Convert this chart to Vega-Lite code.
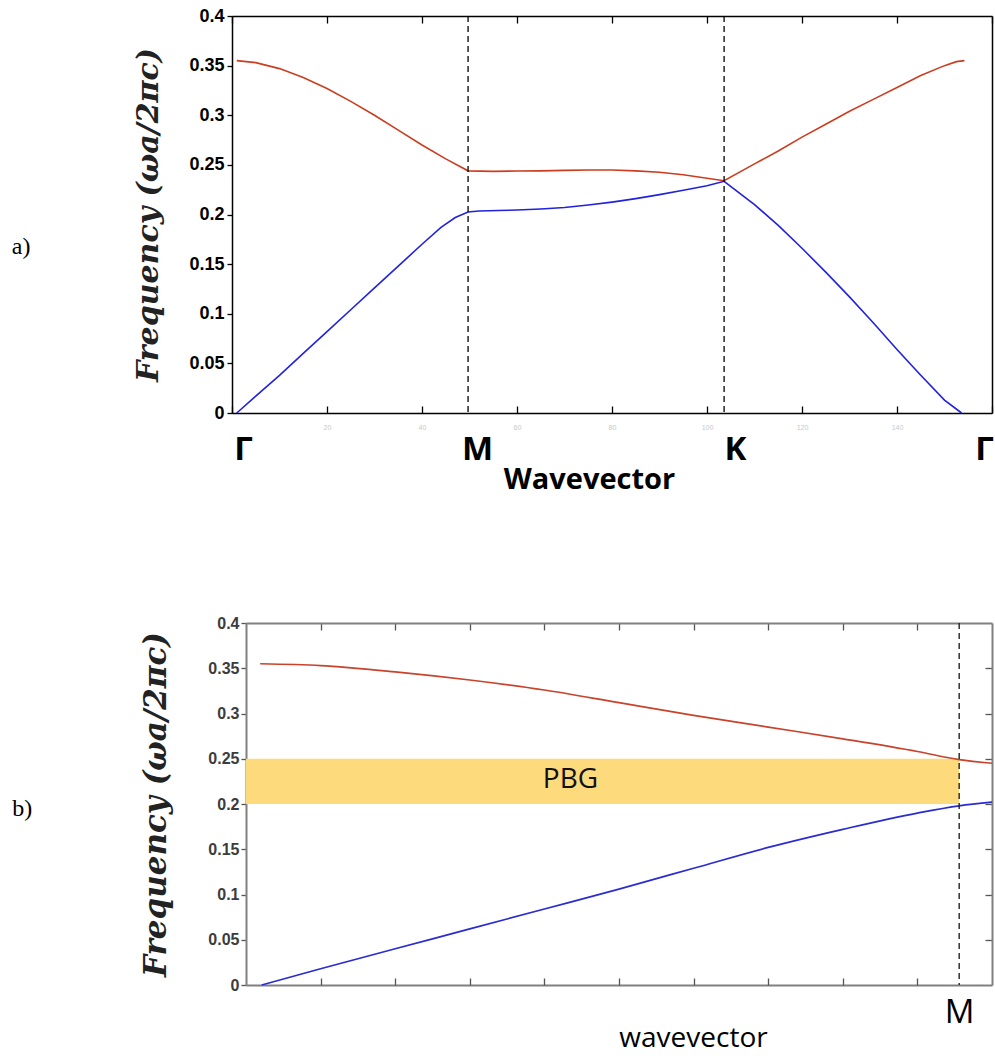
{
  "$schema": "https://vega.github.io/schema/vega-lite/v6.json",
  "padding": {"left": 11, "top": 7, "right": 0, "bottom": 0},
  "background": "white",
  "spacing": 121,
  "config": {"view": {"stroke": null}, "axis": {"grid": false}},
  "datasets": {
    "bandsA": [
      {"k": 1, "f": 0.355, "band": "2"}, {"k": 5, "f": 0.353, "band": "2"}, {"k": 10, "f": 0.347, "band": "2"},
      {"k": 15, "f": 0.338, "band": "2"}, {"k": 20, "f": 0.327, "band": "2"}, {"k": 25, "f": 0.314, "band": "2"},
      {"k": 30, "f": 0.300, "band": "2"}, {"k": 35, "f": 0.285, "band": "2"}, {"k": 40, "f": 0.270, "band": "2"},
      {"k": 45, "f": 0.256, "band": "2"}, {"k": 49.7, "f": 0.244, "band": "2"}, {"k": 55, "f": 0.2435, "band": "2"},
      {"k": 60, "f": 0.2438, "band": "2"}, {"k": 65, "f": 0.244, "band": "2"}, {"k": 70, "f": 0.2445, "band": "2"},
      {"k": 75, "f": 0.2448, "band": "2"}, {"k": 80, "f": 0.2448, "band": "2"}, {"k": 85, "f": 0.244, "band": "2"},
      {"k": 90, "f": 0.2425, "band": "2"}, {"k": 95, "f": 0.240, "band": "2"}, {"k": 100, "f": 0.2365, "band": "2"},
      {"k": 103.6, "f": 0.234, "band": "2"}, {"k": 110, "f": 0.251, "band": "2"}, {"k": 115, "f": 0.264, "band": "2"},
      {"k": 120, "f": 0.278, "band": "2"}, {"k": 125, "f": 0.291, "band": "2"}, {"k": 130, "f": 0.304, "band": "2"},
      {"k": 135, "f": 0.316, "band": "2"}, {"k": 140, "f": 0.328, "band": "2"}, {"k": 145, "f": 0.340, "band": "2"},
      {"k": 150, "f": 0.350, "band": "2"}, {"k": 152.5, "f": 0.354, "band": "2"}, {"k": 154.2, "f": 0.355, "band": "2"},
      {"k": 1, "f": 0.0, "band": "1"}, {"k": 5, "f": 0.017, "band": "1"}, {"k": 10, "f": 0.038, "band": "1"},
      {"k": 15, "f": 0.060, "band": "1"}, {"k": 20, "f": 0.082, "band": "1"}, {"k": 25, "f": 0.104, "band": "1"},
      {"k": 30, "f": 0.126, "band": "1"}, {"k": 35, "f": 0.148, "band": "1"}, {"k": 40, "f": 0.170, "band": "1"},
      {"k": 44, "f": 0.187, "band": "1"}, {"k": 47, "f": 0.197, "band": "1"}, {"k": 49.7, "f": 0.2025, "band": "1"},
      {"k": 52, "f": 0.2035, "band": "1"}, {"k": 56, "f": 0.204, "band": "1"}, {"k": 60, "f": 0.2045, "band": "1"},
      {"k": 65, "f": 0.2055, "band": "1"}, {"k": 70, "f": 0.207, "band": "1"}, {"k": 75, "f": 0.2095, "band": "1"},
      {"k": 80, "f": 0.2125, "band": "1"}, {"k": 85, "f": 0.216, "band": "1"}, {"k": 90, "f": 0.220, "band": "1"},
      {"k": 95, "f": 0.2245, "band": "1"}, {"k": 100, "f": 0.229, "band": "1"}, {"k": 103.6, "f": 0.2335, "band": "1"},
      {"k": 110, "f": 0.210, "band": "1"}, {"k": 115, "f": 0.189, "band": "1"}, {"k": 120, "f": 0.166, "band": "1"},
      {"k": 125, "f": 0.142, "band": "1"}, {"k": 130, "f": 0.117, "band": "1"}, {"k": 135, "f": 0.091, "band": "1"},
      {"k": 140, "f": 0.064, "band": "1"}, {"k": 145, "f": 0.038, "band": "1"}, {"k": 150, "f": 0.013, "band": "1"},
      {"k": 153.6, "f": 0.0, "band": "1"}
    ],
    "symA": [{"k": 49.7}, {"k": 103.6}],
    "labelA": [{"k": -44.4, "f": 0.167, "label": "a)"}],
    "bandsB": [
      {"k": 0.19, "f": 0.355, "band": "2"}, {"k": 1, "f": 0.353, "band": "2"}, {"k": 2, "f": 0.346, "band": "2"},
      {"k": 3, "f": 0.337, "band": "2"}, {"k": 4, "f": 0.326, "band": "2"}, {"k": 5, "f": 0.312, "band": "2"},
      {"k": 6, "f": 0.298, "band": "2"}, {"k": 7, "f": 0.285, "band": "2"}, {"k": 8, "f": 0.272, "band": "2"},
      {"k": 9, "f": 0.258, "band": "2"}, {"k": 9.56, "f": 0.249, "band": "2"}, {"k": 10, "f": 0.245, "band": "2"},
      {"k": 0.21, "f": 0.0, "band": "1"}, {"k": 1, "f": 0.018, "band": "1"}, {"k": 2, "f": 0.040, "band": "1"},
      {"k": 3, "f": 0.062, "band": "1"}, {"k": 4, "f": 0.084, "band": "1"}, {"k": 5, "f": 0.106, "band": "1"},
      {"k": 6, "f": 0.129, "band": "1"}, {"k": 7, "f": 0.152, "band": "1"}, {"k": 8, "f": 0.172, "band": "1"},
      {"k": 9, "f": 0.190, "band": "1"}, {"k": 9.56, "f": 0.198, "band": "1"}, {"k": 10, "f": 0.202, "band": "1"}
    ],
    "symB": [{"k": 9.56}],
    "pbg": [{"k0": 0, "k1": 9.56, "f0": 0.2, "f1": 0.25}],
    "pbgLabel": [{"k": 4.35, "f": 0.226, "label": "PBG"}],
    "labelB": [{"k": -3.0, "f": 0.194, "label": "b)"}]
  },
  "vconcat": [
    {
      "width": 760,
      "height": 397,
      "resolve": {"axis": {"x": "independent", "y": "independent"}},
      "layer": [
        {
          "data": {"name": "bandsA"},
          "transform": [{"filter": "datum.band == '2'"}],
          "mark": {"type": "line", "strokeWidth": 1.6, "interpolate": "linear", "color": "#CC3D1F"},
          "encoding": {
            "x": {"field": "k", "type": "quantitative",
              "scale": {"domain": [0, 160], "nice": false, "zero": false},
              "axis": {"orient": "bottom", "values": [2.3, 51.6, 105.9, 158.3],
                "labelExpr": "datum.value < 10 ? 'Γ' : datum.value < 80 ? 'M' : datum.value < 130 ? 'K' : 'Γ'",
                "ticks": false, "tickSize": 0, "domain": true, "domainColor": "black", "domainWidth": 1.5, "labelPadding": 20,
                "labelFont": "Open Sans", "labelFontWeight": "bold", "labelFontSize": 33, "labelColor": "black",
                "title": "Wavevector", "titleFont": "Open Sans", "titleFontWeight": "bold", "titleFontSize": 29,
                "titleColor": "black", "titlePadding": -1, "titleX": 357}},
            "y": {"field": "f", "type": "quantitative",
              "scale": {"domain": [0, 0.4], "nice": false, "zero": false},
              "axis": {"orient": "left", "values": [0, 0.05, 0.1, 0.15, 0.2, 0.25, 0.3, 0.35, 0.4], "format": "~g",
                "domain": true, "domainColor": "black", "domainWidth": 1.5, "ticks": true, "tickSize": 5, "tickColor": "black", "tickWidth": 1.3,
                "labelFont": "Liberation Sans", "labelFontWeight": "bold", "labelFontSize": 18, "labelColor": "black", "labelPadding": 3,
                "title": "Frequency (ωa/2πc)", "titleFont": "DejaVu Serif", "titleFontStyle": "italic", "titleFontWeight": "bold",
                "titleFontSize": 30, "titleColor": "#222222", "titlePadding": 25}}
          }
        },
        {
          "data": {"name": "bandsA"},
          "transform": [{"filter": "datum.band == '1'"}],
          "mark": {"type": "line", "strokeWidth": 1.6, "interpolate": "linear", "color": "#2222DD"},
          "encoding": {
            "x": {"field": "k", "type": "quantitative",
              "scale": {"domain": [0, 160], "nice": false, "zero": false},
              "axis": {"orient": "bottom", "values": [0, 20, 40, 60, 80, 100, 120, 140, 160], "domain": false,
                "tickSize": -7, "tickColor": "black", "tickWidth": 1.3, "labelPadding": 17,
                "labelExpr": "datum.value > 0 && datum.value < 160 ? datum.label : ''",
                "labelFontSize": 7, "labelColor": "#c8c8c8", "title": null}},
            "y": {"field": "f", "type": "quantitative",
              "scale": {"domain": [0, 0.4], "nice": false, "zero": false},
              "axis": {"orient": "right", "domain": true, "domainColor": "black", "domainWidth": 1.5, "ticks": false, "labels": false, "title": null}}
          }
        },
        {
          "data": {"name": "symA"},
          "mark": {"type": "rule", "strokeDash": [6, 4], "color": "black", "strokeWidth": 1.3},
          "encoding": {
            "x": {"field": "k", "type": "quantitative",
              "scale": {"domain": [0, 160], "nice": false, "zero": false}, "axis": null}
          }
        },
        {
          "data": {"name": "labelA"},
          "mark": {"type": "text", "font": "Liberation Serif", "fontSize": 24, "color": "black", "align": "center", "baseline": "middle"},
          "encoding": {
            "x": {"field": "k", "type": "quantitative", "scale": {"domain": [0, 160], "nice": false, "zero": false},
              "axis": {"orient": "top", "values": [0, 20, 40, 60, 80, 100, 120, 140, 160], "domain": true, "domainColor": "black", "domainWidth": 1.5,
                "tickSize": -7, "tickColor": "black", "tickWidth": 1.3, "labels": false, "title": null}},
            "y": {"field": "f", "type": "quantitative", "scale": {"domain": [0, 0.4], "nice": false, "zero": false}, "axis": null},
            "text": {"field": "label"}
          }
        }
      ]
    },
    {
      "width": 760,
      "height": 362,
      "resolve": {"axis": {"x": "independent", "y": "independent"}},
      "layer": [
        {
          "data": {"name": "pbg"},
          "mark": {"type": "rect", "color": "#FDDA7B"},
          "encoding": {
            "x": {"field": "k0", "type": "quantitative",
              "scale": {"domain": [0, 10], "range": [14, 760], "nice": false, "zero": false},
              "axis": {"orient": "top", "values": [1, 2, 3, 4, 5, 6, 7, 8, 9], "domain": true, "domainColor": "#808080", "domainWidth": 2,
                "tickSize": -7, "tickColor": "#555555", "tickWidth": 1.3, "labels": false, "title": null}},
            "x2": {"field": "k1"},
            "y": {"field": "f0", "type": "quantitative",
              "scale": {"domain": [0, 0.4], "nice": false, "zero": false},
              "axis": {"orient": "right", "values": [0.05, 0.1, 0.15, 0.2, 0.25, 0.3, 0.35], "domain": true, "domainColor": "#808080", "domainWidth": 2,
                "tickSize": -7, "tickColor": "#555555", "tickWidth": 1.3, "labels": false, "title": null}},
            "y2": {"field": "f1"}
          }
        },
        {
          "data": {"name": "bandsB"},
          "transform": [{"filter": "datum.band == '2'"}],
          "mark": {"type": "line", "strokeWidth": 1.7, "interpolate": "monotone", "color": "#C8432C"},
          "encoding": {
            "x": {"field": "k", "type": "quantitative",
              "scale": {"domain": [0, 10], "range": [14, 760], "nice": false, "zero": false},
              "axis": {"orient": "bottom", "values": [9.56], "labelExpr": "'M'",
                "ticks": false, "tickSize": 0, "domain": true, "domainColor": "#808080", "domainWidth": 2, "labelPadding": 11,
                "labelFont": "Open Sans", "labelFontWeight": "normal", "labelFontSize": 33, "labelColor": "black",
                "title": "wavevector", "titleFont": "Open Sans", "titleFontWeight": "normal", "titleFontSize": 28,
                "titleColor": "black", "titlePadding": -5, "titleX": 461}},
            "y": {"field": "f", "type": "quantitative",
              "scale": {"domain": [0, 0.4], "nice": false, "zero": false},
              "axis": {"orient": "left", "offset": -14, "values": [0, 0.05, 0.1, 0.15, 0.2, 0.25, 0.3, 0.35, 0.4], "format": "~g",
                "domain": true, "domainColor": "#808080", "domainWidth": 2, "tickSize": 5, "tickColor": "#555555", "tickWidth": 1.3,
                "labelFont": "Liberation Sans", "labelFontWeight": "bold", "labelFontSize": 16, "labelColor": "#3c3c3c", "labelPadding": 2,
                "title": "Frequency (ωa/2πc)", "titleFont": "DejaVu Serif", "titleFontStyle": "italic", "titleFontWeight": "bold",
                "titleFontSize": 31, "titleColor": "#222222", "titlePadding": 35}}
          }
        },
        {
          "data": {"name": "bandsB"},
          "transform": [{"filter": "datum.band == '1'"}],
          "mark": {"type": "line", "strokeWidth": 1.7, "interpolate": "monotone", "color": "#2B2BD2"},
          "encoding": {
            "x": {"field": "k", "type": "quantitative",
              "scale": {"domain": [0, 10], "range": [14, 760], "nice": false, "zero": false},
              "axis": {"orient": "bottom", "values": [1, 2, 3, 4, 5, 6, 7, 8, 9], "domain": false,
                "tickSize": -7, "tickColor": "#555555", "tickWidth": 1.3, "labels": false, "title": null}},
            "y": {"field": "f", "type": "quantitative",
              "scale": {"domain": [0, 0.4], "nice": false, "zero": false}, "axis": null}
          }
        },
        {
          "data": {"name": "symB"},
          "mark": {"type": "rule", "strokeDash": [6, 4], "color": "#222222", "strokeWidth": 1.4},
          "encoding": {
            "x": {"field": "k", "type": "quantitative",
              "scale": {"domain": [0, 10], "range": [14, 760], "nice": false, "zero": false}, "axis": null}
          }
        },
        {
          "data": {"name": "pbgLabel"},
          "mark": {"type": "text", "font": "Open Sans", "fontSize": 28, "color": "#111111", "align": "center", "baseline": "middle"},
          "encoding": {
            "x": {"field": "k", "type": "quantitative", "scale": {"domain": [0, 10], "range": [14, 760], "nice": false, "zero": false}, "axis": null},
            "y": {"field": "f", "type": "quantitative", "scale": {"domain": [0, 0.4], "nice": false, "zero": false}, "axis": null},
            "text": {"field": "label"}
          }
        },
        {
          "data": {"name": "labelB"},
          "mark": {"type": "text", "font": "Liberation Serif", "fontSize": 24, "color": "black", "align": "center", "baseline": "middle"},
          "encoding": {
            "x": {"field": "k", "type": "quantitative", "scale": {"domain": [0, 10], "range": [14, 760], "nice": false, "zero": false}, "axis": null},
            "y": {"field": "f", "type": "quantitative", "scale": {"domain": [0, 0.4], "nice": false, "zero": false}, "axis": null},
            "text": {"field": "label"}
          }
        }
      ]
    }
  ]
}
